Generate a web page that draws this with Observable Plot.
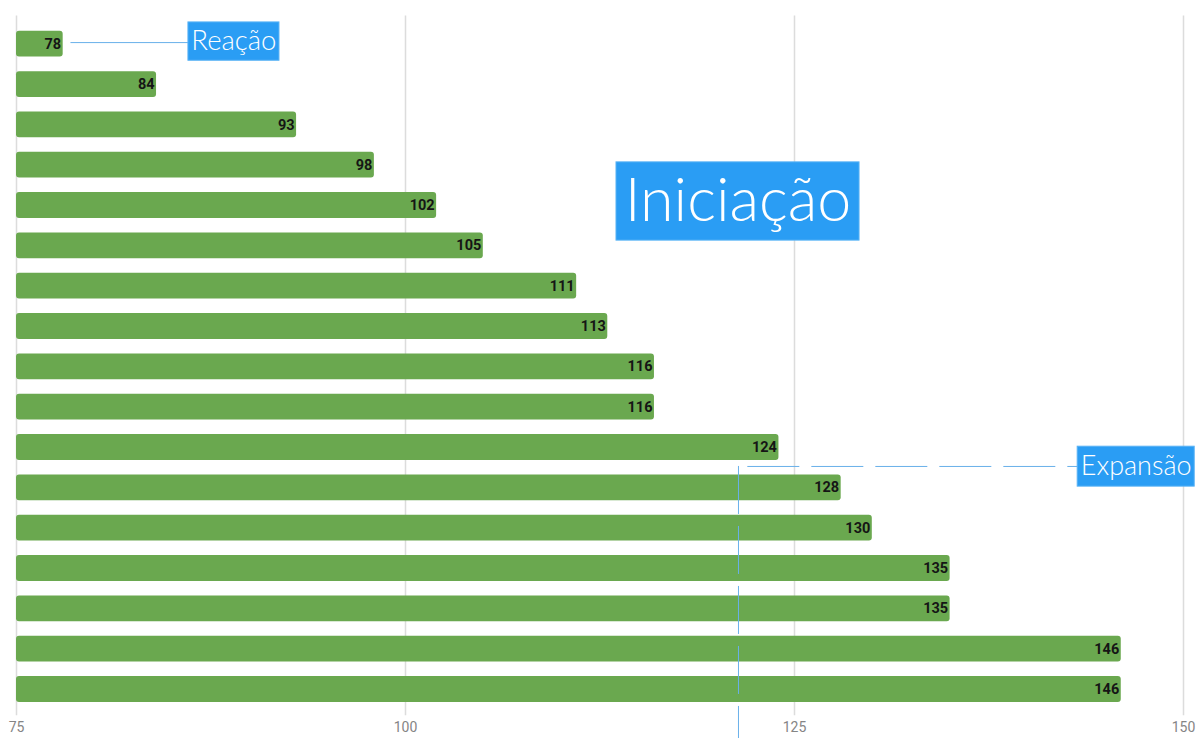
<!DOCTYPE html>
<html>
<head>
<meta charset="utf-8">
<script src="https://cdn.jsdelivr.net/npm/d3@7"></script>
<script src="https://cdn.jsdelivr.net/npm/@observablehq/plot@0.6"></script>
<style>
  html, body { margin: 0; padding: 0; background: #fff; }
  #chart svg { display: block; }
</style>
</head>
<body>
<div id="chart"></div>
<script>
// Bar values, top to bottom
const values = [78, 84, 93, 98, 102, 105, 111, 113, 116, 116, 124, 128, 130, 135, 135, 146, 146];
// Value axis ticks
const xTicks = [75, 100, 125, 150];
// Phase labels
const phaseLabels = ["Reação", "Iniciação", "Expansão"];

const rows = values.map((v, i) => ({ i, v }));

// Label boxes in data units (x = value, y = row index)
const boxes = [
  { label: phaseLabels[0], x1: 86.05, x2: 91.9, y1: -0.54, y2: 0.41, cx: 88.97, cy: -0.07, size: 27.5 },
  { label: phaseLabels[1], x1: 113.56, x2: 129.18, y1: 2.93, y2: 4.87, cx: 121.37, cy: 3.9, size: 61 },
  { label: phaseLabels[2], x1: 143.2, x2: 150.72, y1: 9.98, y2: 10.97, cx: 146.96, cy: 10.47, size: 27 }
];

const blue = "#2a9df4";
const lineBlue = "#69b0ea";

const chart = Plot.plot({
  width: 1197,
  height: 738,
  marginLeft: 16,
  marginRight: 14,
  marginTop: 43.7,
  marginBottom: 49,
  style: { fontFamily: "Roboto, sans-serif", background: "#fff" },
  x: { domain: [75, 150] },
  y: { domain: [0, 16], reverse: true, axis: null },
  marks: [
    Plot.ruleX(xTicks, { x: d => d, y1: () => -0.7, y2: () => 16.65, stroke: "#dcdcdc", strokeWidth: 1.5 }),
    Plot.axisX({ ticks: xTicks, tickSize: 0, tickPadding: 33, label: null, fontSize: 14, color: "#858585" }),
    Plot.rect(rows, {
      x1: () => 75, x2: d => d.v,
      y1: d => d.i - 0.32, y2: d => d.i + 0.32,
      fill: "#6aa84f", rx: 3
    }),
    Plot.text(rows, {
      x: d => d.v, y: d => d.i, text: d => String(d.v),
      textAnchor: "end", dx: -2, fontWeight: "bold", fontSize: 14.5, fill: "#151515"
    }),
    // connectors
    Plot.ruleY([-0.04], { x1: () => 78.5, x2: () => 86.05, stroke: lineBlue, strokeWidth: 1 }),
    Plot.ruleY([10.47], { x1: () => 122, x2: () => 143.2, stroke: lineBlue, strokeWidth: 1, strokeDasharray: "52,12" }),
    Plot.ruleX([121.4], { y1: () => 10.47, y2: () => 17.3, stroke: lineBlue, strokeWidth: 1, strokeDasharray: "48,12" }),
    // label boxes
    Plot.rect(boxes, { x1: "x1", x2: "x2", y1: "y1", y2: "y2", fill: blue, stroke: "#58b2f5", strokeWidth: 1 }),
    ...boxes.map(b => Plot.text([b], {
      x: "cx", y: "cy", text: "label", fill: "#fff", fontSize: b.size,
      fontFamily: "Lato, sans-serif", fontWeight: 300
    }))
  ]
});

document.getElementById("chart").appendChild(chart);
</script>
</body>
</html>
